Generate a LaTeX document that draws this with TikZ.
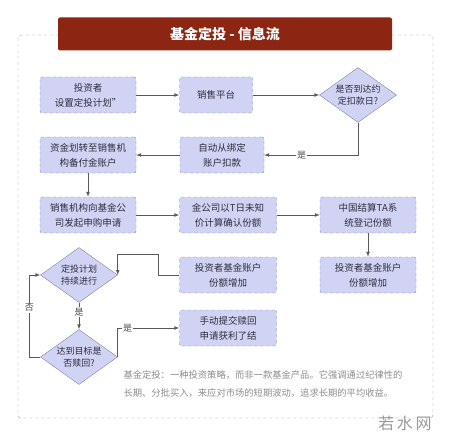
\documentclass[tikz,border=0pt]{standalone}
\usepackage{fontspec}
\newfontfamily\cjk{Noto Sans CJK SC}
\usetikzlibrary{arrows,shapes.geometric,positioning}
\definecolor{boxfill}{RGB}{208,211,243}
\definecolor{boxline}{RGB}{130,130,165}
\definecolor{banner}{RGB}{140,38,18}
\definecolor{txt}{RGB}{45,45,60}
\tikzset{
	box/.style={draw=boxline, dashed, fill=boxfill, rounded corners=2pt, minimum width=96pt, minimum height=36pt, align=center, inner sep=1pt, text=txt, font=\cjk\fontsize{9.5}{15}\selectfont},
	choice/.style={diamond, draw=boxline, fill=boxfill, aspect=1.43, inner sep=0pt, minimum width=77pt, minimum height=55pt, align=center, text=txt, font=\cjk\fontsize{9}{12}\selectfont},
	flow/.style={draw=black!65, line width=0.7pt, -latex},
	tag/.style={fill=white, inner sep=1pt, text=black!70, font=\cjk\fontsize{9}{9}\selectfont}
}

\begin{document}
\begin{tikzpicture}[x=1pt,y=-1pt]
	\useasboundingbox (0,0) rectangle (450,436);
	\draw[black!45, dashed, rounded corners=3pt] (18,35) rectangle (433,418);
	\node (title) at (225,34) [fill=banner, rounded corners=2pt, minimum width=334pt, minimum height=33pt, text=white, font=\cjk\bfseries\fontsize{14}{14}\selectfont] {基金定投 - 信息流};

	\node (investor) at (88,95) [box] {投资者\\设置定投计划”};
	\node (platform) at (216,95) [box, minimum width=73pt] {销售平台};
	\node (check) at (358,95) [choice] {是否到达约\\定扣款日?};
	\node (deduct) at (222,155) [box, minimum width=84pt] {自动从绑定\\账户扣款};
	\node (transfer) at (88,155) [box] {资金划转至销售机\\构备付金账户};
	\node (apply) at (88,215) [box] {销售机构向基金公\\司发起申购申请};
	\node (confirm) at (228,215) [box, minimum width=97pt] {金公司以T日未知\\价计算确认份额};
	\node (register) at (368,215) [box] {中国结算TA系\\统登记份额};
	\node (share2) at (368,275) [box] {投资者基金账户\\份额增加};
	\node (share1) at (228,275) [box, minimum width=97pt] {投资者基金账户\\份额增加};
	\node (keep) at (79,275) [choice] {定投计划\\持续进行};
	\node (goal) at (79,357) [choice] {达到目标是\\否赎回?};
	\node (redeem) at (228,328) [box, minimum width=97pt] {手动提交赎回\\申请获利了结};
	\coordinate (bend) at (158,254);

	\draw[flow] (investor) -- (platform);
	\draw[flow] (platform) -- (check);
	\draw[flow] (check.south) |- node[tag, pos=0.8] {是} (deduct.east);
	\draw[flow] (deduct) -- (transfer);
	\draw[flow] (transfer) -- (apply);
	\draw[flow] (apply) -- (confirm);
	\draw[flow] (confirm) -- (register);
	\draw[flow] (register) -- (share2);
	\draw[flow] (share1.west) -| (bend) -| (keep.east);
	\draw[flow] (keep.south) -- node[tag, pos=0.35] {是} (goal.north);
	\draw[flow] (goal.west) -- ++(-11,0) |- node[tag, pos=0.3] {否} (keep.west);
	\draw[flow] (goal.east) |- node[tag, pos=0.58] {是} (redeem.west);

	\node (note) at (120,384) [anchor=west, align=left, text=black!45, font=\cjk\fontsize{9.3}{18}\selectfont] {基金定投：一种投资策略，而非一款基金产品。它强调通过纪律性的\\长期、分批买入，来应对市场的短期波动，追求长期的平均收益。};
	\node (mark) at (405,423) [text=black!40, font=\cjk\fontsize{16}{16}\selectfont] {若\,水\,网};
\end{tikzpicture}
\end{document}
